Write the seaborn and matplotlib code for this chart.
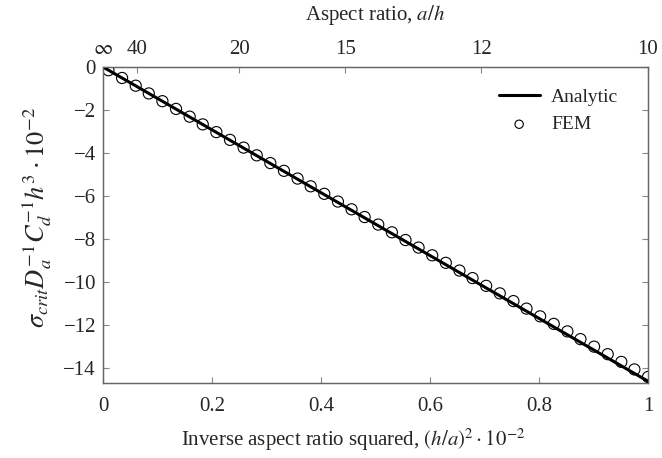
import numpy as np
import pandas as pd
import seaborn as sns
import matplotlib.pyplot as plt

# analytic line (endpoints) and FEM points
analytic_x = [0.0, 1.0]
analytic_y = [0.0, -14.62]

fem_x = [0.010, 0.035, 0.060, 0.084, 0.109, 0.134, 0.159, 0.183, 0.208, 0.233,
         0.258, 0.282, 0.307, 0.332, 0.357, 0.381, 0.406, 0.431, 0.456, 0.480,
         0.505, 0.530, 0.555, 0.579, 0.604, 0.629, 0.654, 0.678, 0.703, 0.728,
         0.753, 0.777, 0.802, 0.827, 0.852, 0.876, 0.901, 0.926, 0.951, 0.975,
         1.000]
fem_y = [-0.15, -0.51, -0.87, -1.23, -1.59, -1.95, -2.31, -2.67, -3.03, -3.39,
         -3.75, -4.11, -4.47, -4.83, -5.19, -5.55, -5.90, -6.26, -6.62, -6.98,
         -7.33, -7.69, -8.05, -8.40, -8.76, -9.11, -9.47, -9.82, -10.18, -10.53,
         -10.89, -11.24, -11.60, -11.95, -12.30, -12.66, -13.01, -13.36, -13.72, -14.07,
         -14.42]

aspect_ticks = [40, 20, 15, 12, 10]
aspect_labels = ['40', '20', '15', '12', '10']

sns.set_style('ticks')
plt.rcParams['font.family'] = ['Liberation Serif', 'DejaVu Serif']
plt.rcParams['mathtext.fontset'] = 'stix'
plt.rcParams['font.size'] = 15

fig = plt.figure(figsize=(6.62, 4.58), dpi=100)
ax = fig.add_axes([0.1556, 0.1638, 0.8233, 0.6899])

line_df = pd.DataFrame({'x': analytic_x, 'y': analytic_y})
fem_df = pd.DataFrame({'x': fem_x, 'y': fem_y})

sns.lineplot(data=line_df, x='x', y='y', ax=ax, color='black', linewidth=2.2,
             label='Analytic', zorder=3)
sns.scatterplot(data=fem_df, x='x', y='y', ax=ax, marker='o', s=64,
                facecolor='none', edgecolor='black', linewidth=0.8,
                label='FEM', zorder=2)

ax.set_xlim(0, 1)
ax.set_ylim(-14.7, 0)
ax.set_xticks([0, 0.2, 0.4, 0.6, 0.8, 1])
ax.set_xticklabels(['0', '0.2', '0.4', '0.6', '0.8', '1'])
ax.set_yticks([0, -2, -4, -6, -8, -10, -12, -14])
ax.set_yticklabels(['0', '\u22122', '\u22124', '\u22126', '\u22128', '\u221210', '\u221212', '\u221214'])
ax.tick_params(direction='in', length=4, color='#888888', width=0.8,
               right=True, labelsize=15)
ax.tick_params(axis='x', pad=10)
ax.tick_params(axis='y', pad=5)
for sp in ax.spines.values():
    sp.set_visible(True)
    sp.set_color('#666666')
    sp.set_linewidth(1.0)

ax.set_xlabel('Inverse aspect ratio squared, $(h/a)^2 \\cdot 10^{-2}$', fontsize=15)
ax.xaxis.set_label_coords(0.459, -0.18)
ax.xaxis.label.set_va('center')
ax.set_ylabel('$\\sigma_{crit} D_a^{-1} C_d^{-1} h^3 \\cdot 10^{-2}$', fontsize=19)
ax.yaxis.set_label_coords(-0.121, 0.525)
ax.yaxis.label.set_va('center')

# top axis: aspect ratio a/h, position = (h/a)^2 * 100
top = ax.twiny()
top.set_xlim(ax.get_xlim())
top_pos = [0.0] + [100.0 / a ** 2 for a in aspect_ticks]
top.set_xticks(top_pos)
top.set_xticklabels(['$\\infty$'] + aspect_labels)
top.tick_params(direction='in', length=4, color='#888888', width=0.8, labelsize=15, pad=6)
top.set_xlabel('Aspect ratio, $a/h$', fontsize=15)
top.xaxis.set_label_coords(0.5, 1.165)
top.xaxis.label.set_va('center')
for sp in top.spines.values():
    sp.set_color('#666666')

leg = ax.legend(loc='upper right', bbox_to_anchor=(0.985, 1.0), frameon=False,
                fontsize=14, handlelength=2.1, markerscale=0.75, borderaxespad=0.7,
                labelspacing=0.5, handletextpad=0.6)

fig.savefig('out.png', dpi=100)
